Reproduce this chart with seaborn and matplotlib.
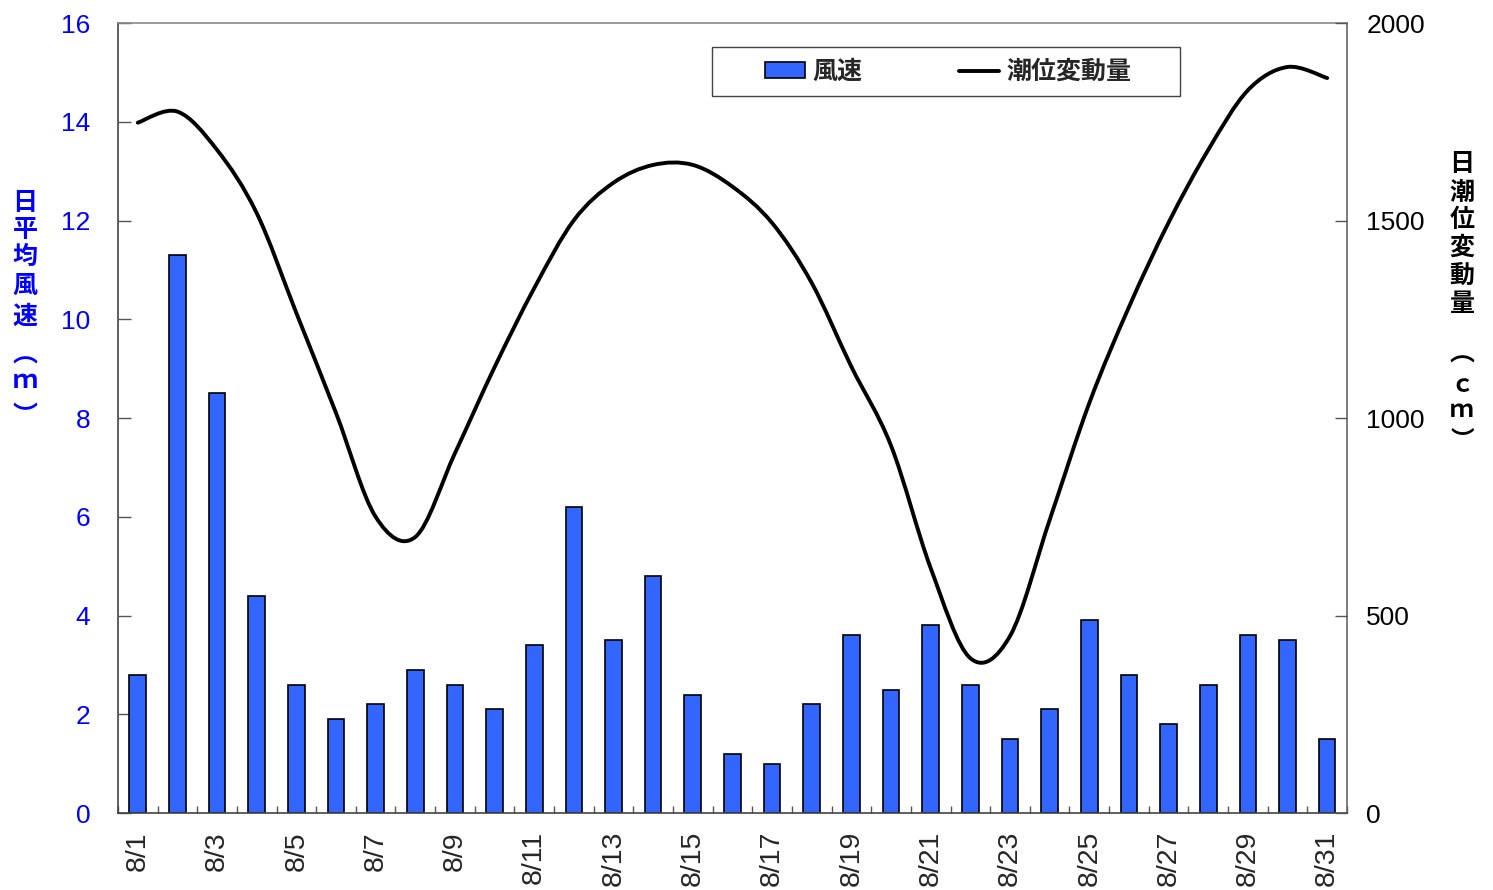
import numpy as np
import pandas as pd
import matplotlib
matplotlib.use("Agg")
import matplotlib.pyplot as plt
from matplotlib.path import Path
from matplotlib.patches import PathPatch, Patch, Rectangle
from matplotlib.lines import Line2D
import seaborn as sns

# Daily values for August
dates = [f"8/{d}" for d in range(1, 32)]
wind_speed = [2.8, 11.3, 8.5, 4.4, 2.6, 1.9, 2.2, 2.9, 2.6, 2.1, 3.4, 6.2, 3.5, 4.8, 2.4,
              1.2, 1.0, 2.2, 3.6, 2.5, 3.8, 2.6, 1.5, 2.1, 3.9, 2.8, 1.8, 2.6, 3.6, 3.5, 1.5]
tide_range = [1748, 1776, 1679, 1519, 1266, 1013, 750, 699, 911, 1129, 1329, 1501, 1596,
              1641, 1641, 1586, 1494, 1342, 1130, 930, 620, 392, 448, 742, 1038, 1281,
              1495, 1679, 1830, 1889, 1861]

left_ticks = [0, 2, 4, 6, 8, 10, 12, 14, 16]
right_ticks = [0, 500, 1000, 1500, 2000]

df = pd.DataFrame({"date": dates, "wind": wind_speed, "tide": tide_range})

sns.set_style("white")
plt.rcParams["font.family"] = ["Liberation Sans", "Noto Sans CJK JP"]
CJK = ["Noto Sans CJK JP", "DejaVu Sans"]

BAR_COLOR = "#3366FF"
BLUE = "#0000FF"
W, H = 1493, 890

fig = plt.figure(figsize=(W / 100, H / 100), dpi=100)
ax = fig.add_axes([0.079, 0.0865, 0.8232, 0.8875])

sns.barplot(data=df, x="date", y="wind", ax=ax, color=BAR_COLOR, saturation=1,
            width=0.42, edgecolor="black", linewidth=1.2)
ax.set_xlim(-0.5, len(dates) - 0.5)
ax.set_ylim(0, 16)
ax.set_yticks(left_ticks)
ax.set_yticklabels([str(t) for t in left_ticks], color=BLUE, fontsize=19)
ax.tick_params(axis="y", direction="in", length=9, width=1, color="#555555", pad=20, left=True)
ax.set_xlabel("")
ax.set_ylabel("")

# Category labels on every other day, boundary ticks between days
ax.set_xticks(range(len(dates)))
ax.set_xticklabels([d if i % 2 == 0 else "" for i, d in enumerate(dates)],
                   rotation=90, fontsize=20.5, va="top", ha="center")
ax.tick_params(axis="x", which="major", length=0, pad=13)
ax.set_xticks(np.arange(-0.5, len(dates), 1.0), minor=True)
ax.tick_params(axis="x", which="minor", direction="in", length=5, width=1,
               color="#555555", bottom=True)

for side, col in [("left", "#444444"), ("bottom", "#444444"),
                  ("top", "#888888"), ("right", "#666666")]:
    ax.spines[side].set_visible(True)
    ax.spines[side].set_color(col)
    ax.spines[side].set_linewidth(1.2)

# Secondary axis: smoothed tide curve (Catmull-Rom segments as cubic Beziers)
ax2 = ax.twinx()
ax2.set_ylim(0, 2000)
ax2.set_yticks(right_ticks)
ax2.set_yticklabels([str(t) for t in right_ticks], fontsize=19, color="black")
ax2.tick_params(axis="y", direction="in", length=9, width=1, color="#555555", pad=14, right=True)
ax2.grid(False)
for s in ax2.spines.values():
    s.set_visible(False)

xs = np.arange(len(tide_range), dtype=float)
ys = np.asarray(tide_range, dtype=float)
pts = np.column_stack([xs, ys])
ext = np.vstack([pts[0], pts, pts[-1]])
verts = [tuple(pts[0])]
codes = [Path.MOVETO]
for i in range(len(pts) - 1):
    p0, p1, p2, p3 = ext[i], ext[i + 1], ext[i + 2], ext[i + 3]
    c1 = p1 + (p2 - p0) / 6.0
    c2 = p2 - (p3 - p1) / 6.0
    verts += [tuple(c1), tuple(c2), tuple(p2)]
    codes += [Path.CURVE4, Path.CURVE4, Path.CURVE4]
ax2.add_patch(PathPatch(Path(verts, codes), facecolor="none", edgecolor="black",
                        linewidth=2.8, capstyle="round", joinstyle="round"))


def vertical_title(x_px, items, color, size=18):
    """Write an axis title as a column of upright characters."""
    for ch, y_px in items:
        fig.text(x_px / W, 1 - y_px / H, ch, fontsize=size, family=CJK, color=color,
                 fontweight="bold", ha="center", va="center")


vertical_title(25, [("日", 203), ("平", 230), ("均", 257), ("風", 286), ("速", 317),
                    ("︵", 356), ("ｍ", 381), ("︶", 416)], BLUE)
vertical_title(1462, [("日", 164), ("潮", 193), ("位", 220), ("変", 248), ("動", 276),
                      ("量", 304), ("︵", 355)], "black")
vertical_title(1462, [("ｃ", 385), ("ｍ", 410), ("︶", 441)], "black", size=17)

# Legend: entries without frame, box drawn around them
handles = [Patch(facecolor=BAR_COLOR, edgecolor="black", linewidth=1.2),
           Line2D([0], [0], color="black", linewidth=2.8)]
leg = ax.legend(handles, ["風速", "潮位変動量"], ncol=2, loc="center left",
                bbox_to_anchor=((765 - 118) / 1229, (813 - 72) / 790), frameon=False,
                handlelength=1.6, handleheight=0.6, handletextpad=0.28, columnspacing=3.9,
                borderpad=0, borderaxespad=0,
                prop={"family": CJK, "weight": "bold", "size": 18})
leg.set_zorder(10)
ax.add_patch(Rectangle(((712 - 118) / 1229, (813 - 96) / 790), (1180 - 712) / 1229,
                       (96 - 47) / 790, transform=ax.transAxes, facecolor="white",
                       edgecolor="#444444", linewidth=1.0, zorder=9, clip_on=False))

fig.savefig("out.png", dpi=100, facecolor="white")
